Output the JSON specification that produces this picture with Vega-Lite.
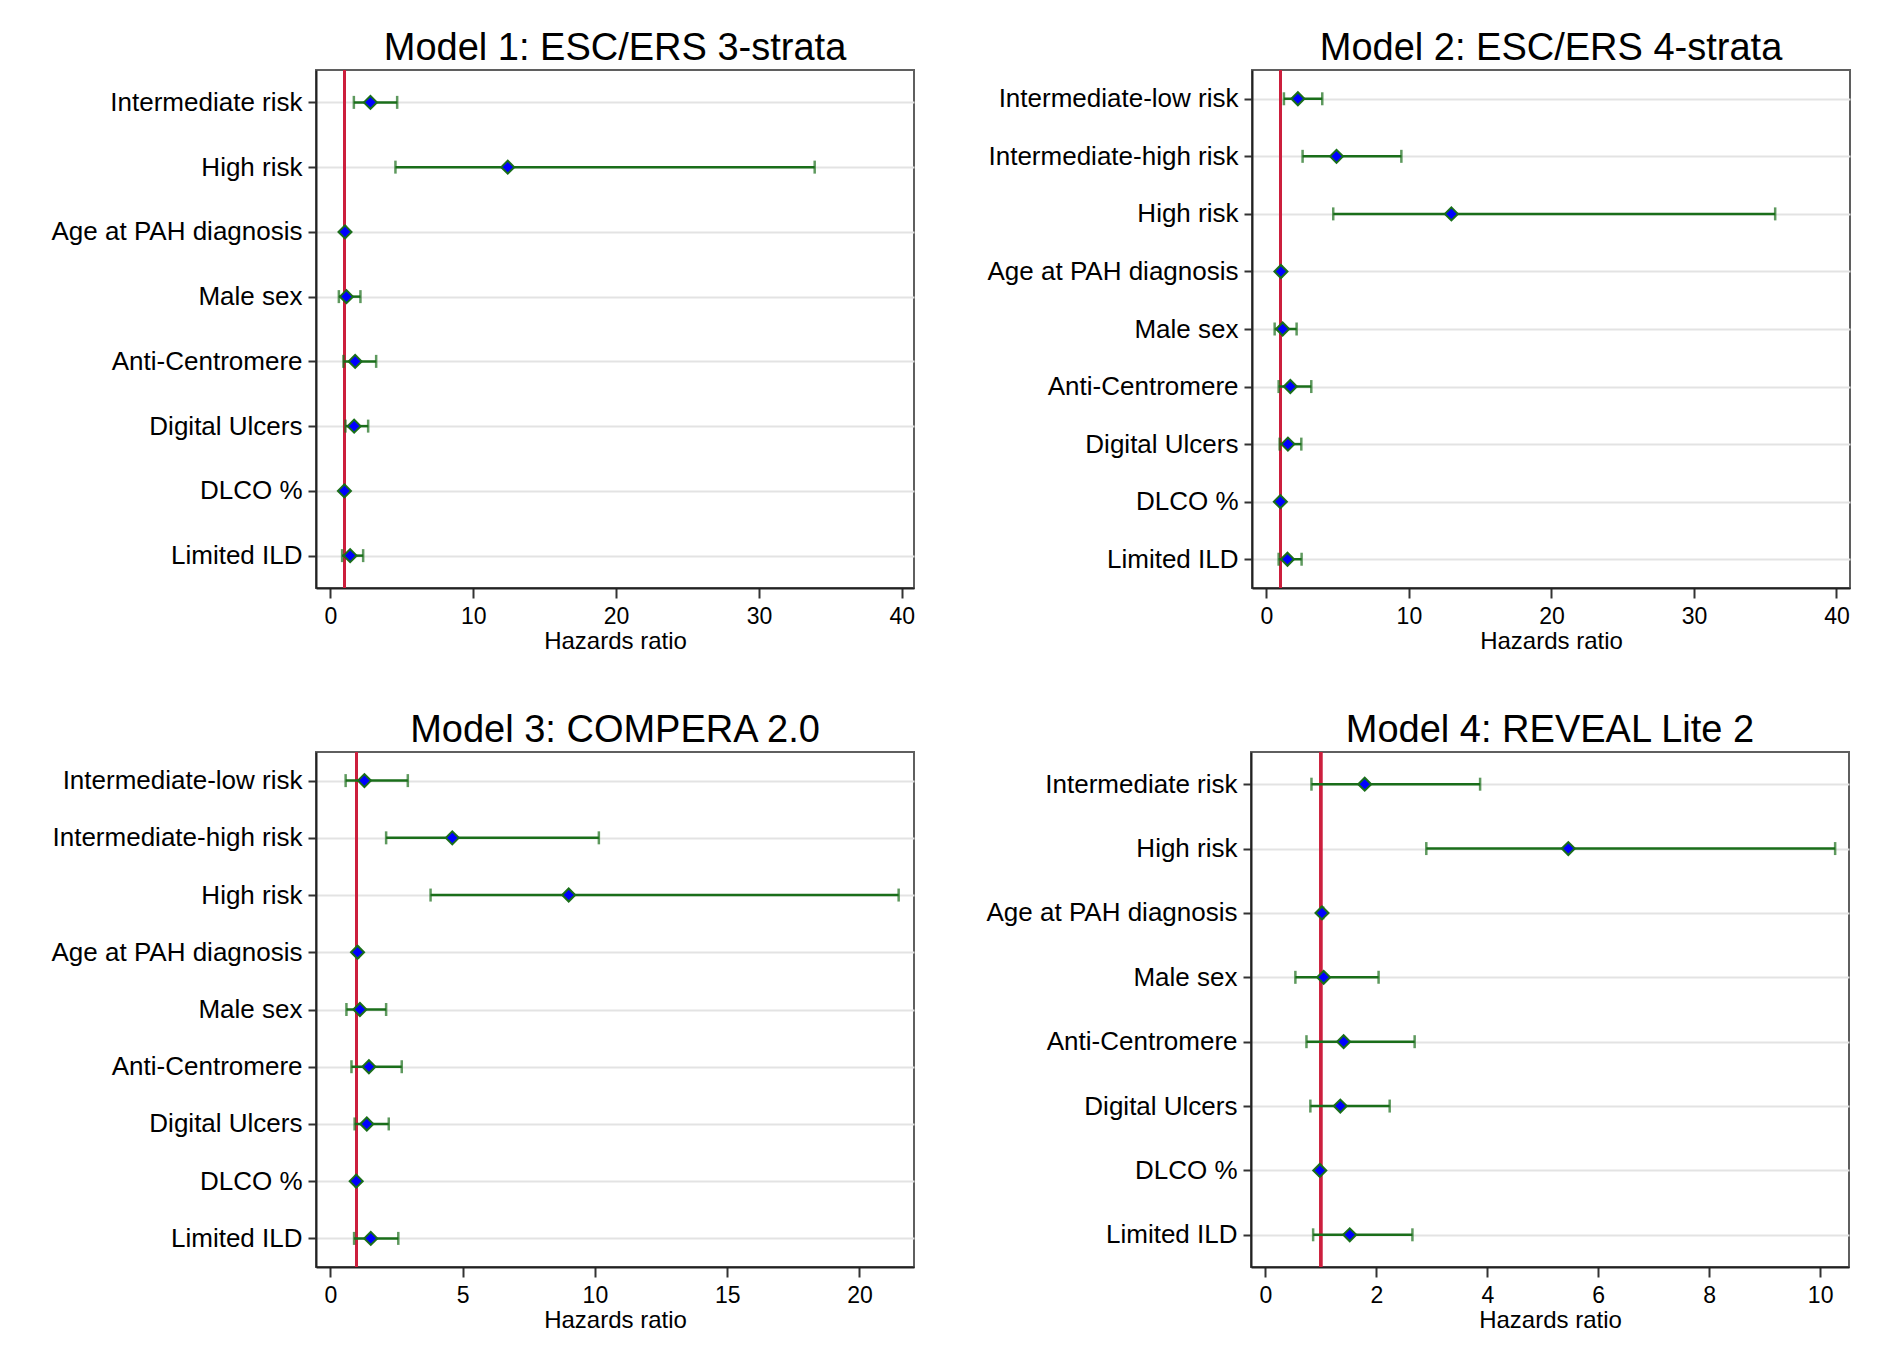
{
  "$schema": "https://vega.github.io/schema/vega-lite/v6.json",
  "padding": {"left": 45, "top": 28, "right": 5, "bottom": 5},
  "background": "white",
  "datasets": {
    "hr": [
      {"model": "m1", "var": "Intermediate risk", "hr": 2.81, "lo": 1.65, "hi": 4.68},
      {"model": "m1", "var": "High risk", "hr": 12.42, "lo": 4.56, "hi": 33.9},
      {"model": "m1", "var": "Age at PAH diagnosis", "hr": 1.03, "lo": 1.01, "hi": 1.05},
      {"model": "m1", "var": "Male sex", "hr": 1.13, "lo": 0.6, "hi": 2.11},
      {"model": "m1", "var": "Anti-Centromere", "hr": 1.74, "lo": 0.92, "hi": 3.21},
      {"model": "m1", "var": "Digital Ulcers", "hr": 1.67, "lo": 1.06, "hi": 2.65},
      {"model": "m1", "var": "DLCO %", "hr": 0.99, "lo": 0.97, "hi": 1.0},
      {"model": "m1", "var": "Limited ILD", "hr": 1.39, "lo": 0.83, "hi": 2.3},
      {"model": "m2", "var": "Intermediate-low risk", "hr": 2.21, "lo": 1.23, "hi": 3.92},
      {"model": "m2", "var": "Intermediate-high risk", "hr": 4.92, "lo": 2.54, "hi": 9.47},
      {"model": "m2", "var": "High risk", "hr": 12.98, "lo": 4.69, "hi": 35.7},
      {"model": "m2", "var": "Age at PAH diagnosis", "hr": 1.02, "lo": 1.0, "hi": 1.04},
      {"model": "m2", "var": "Male sex", "hr": 1.14, "lo": 0.58, "hi": 2.12},
      {"model": "m2", "var": "Anti-Centromere", "hr": 1.68, "lo": 0.86, "hi": 3.15},
      {"model": "m2", "var": "Digital Ulcers", "hr": 1.51, "lo": 0.93, "hi": 2.45},
      {"model": "m2", "var": "DLCO %", "hr": 0.98, "lo": 0.96, "hi": 1.0},
      {"model": "m2", "var": "Limited ILD", "hr": 1.48, "lo": 0.86, "hi": 2.47},
      {"model": "m3", "var": "Intermediate-low risk", "hr": 1.29, "lo": 0.58, "hi": 2.93},
      {"model": "m3", "var": "Intermediate-high risk", "hr": 4.61, "lo": 2.11, "hi": 10.15},
      {"model": "m3", "var": "High risk", "hr": 9.01, "lo": 3.79, "hi": 21.48},
      {"model": "m3", "var": "Age at PAH diagnosis", "hr": 1.03, "lo": 1.01, "hi": 1.05},
      {"model": "m3", "var": "Male sex", "hr": 1.12, "lo": 0.61, "hi": 2.11},
      {"model": "m3", "var": "Anti-Centromere", "hr": 1.46, "lo": 0.8, "hi": 2.7},
      {"model": "m3", "var": "Digital Ulcers", "hr": 1.38, "lo": 0.92, "hi": 2.21},
      {"model": "m3", "var": "DLCO %", "hr": 0.98, "lo": 0.96, "hi": 1.0},
      {"model": "m3", "var": "Limited ILD", "hr": 1.53, "lo": 0.9, "hi": 2.57},
      {"model": "m4", "var": "Intermediate risk", "hr": 1.79, "lo": 0.83, "hi": 3.87},
      {"model": "m4", "var": "High risk", "hr": 5.46, "lo": 2.9, "hi": 10.27},
      {"model": "m4", "var": "Age at PAH diagnosis", "hr": 1.02, "lo": 1.01, "hi": 1.04},
      {"model": "m4", "var": "Male sex", "hr": 1.05, "lo": 0.54, "hi": 2.04},
      {"model": "m4", "var": "Anti-Centromere", "hr": 1.41, "lo": 0.74, "hi": 2.69},
      {"model": "m4", "var": "Digital Ulcers", "hr": 1.35, "lo": 0.81, "hi": 2.24},
      {"model": "m4", "var": "DLCO %", "hr": 0.98, "lo": 0.97, "hi": 0.99},
      {"model": "m4", "var": "Limited ILD", "hr": 1.52, "lo": 0.86, "hi": 2.65}
    ]
  },
  "vconcat": [
    {
      "hconcat": [
        {
          "width": 598, "height": 518,
          "title": "Model 1: ESC/ERS 3-strata",
          "data": {"name": "hr"},
          "transform": [{"filter": "datum.model == 'm1'"}],
          "layer": [
            {"mark": {"type": "rule", "color": "#cc1f3d", "strokeWidth": 2.5}, "encoding": {"x": {"datum": 1, "type": "quantitative"}}},
            {"mark": {"type": "rule", "color": "#1a6e1a", "strokeWidth": 2.5},
             "encoding": {
               "y": {"field": "var", "type": "nominal", "sort": ["Intermediate risk", "High risk", "Age at PAH diagnosis", "Male sex", "Anti-Centromere", "Digital Ulcers", "DLCO %", "Limited ILD"], "scale": {"type": "point", "padding": 0.5}, "axis": {"title": null}},
               "x": {"field": "lo", "type": "quantitative", "scale": {"domain": [-1, 40.85], "nice": false, "zero": false}, "axis": {"values": [0, 10, 20, 30, 40], "title": "Hazards ratio"}},
               "x2": {"field": "hi"}}},
            {"mark": {"type": "tick", "color": "#1a6e1a", "thickness": 2.5, "size": 13, "orient": "vertical"}, "encoding": {"y": {"field": "var", "type": "nominal", "sort": ["Intermediate risk", "High risk", "Age at PAH diagnosis", "Male sex", "Anti-Centromere", "Digital Ulcers", "DLCO %", "Limited ILD"]}, "x": {"field": "lo", "type": "quantitative"}}},
            {"mark": {"type": "tick", "color": "#1a6e1a", "thickness": 2.5, "size": 13, "orient": "vertical"}, "encoding": {"y": {"field": "var", "type": "nominal", "sort": ["Intermediate risk", "High risk", "Age at PAH diagnosis", "Male sex", "Anti-Centromere", "Digital Ulcers", "DLCO %", "Limited ILD"]}, "x": {"field": "hi", "type": "quantitative"}}},
            {"mark": {"type": "point", "shape": "diamond", "filled": true, "fill": "#0000ff", "stroke": "#1a6e1a", "strokeWidth": 2, "size": 170, "opacity": 1}, "encoding": {"y": {"field": "var", "type": "nominal", "sort": ["Intermediate risk", "High risk", "Age at PAH diagnosis", "Male sex", "Anti-Centromere", "Digital Ulcers", "DLCO %", "Limited ILD"]}, "x": {"field": "hr", "type": "quantitative"}}}
          ]
        },
        {
          "width": 598, "height": 518,
          "title": "Model 2: ESC/ERS 4-strata",
          "data": {"name": "hr"},
          "transform": [{"filter": "datum.model == 'm2'"}],
          "layer": [
            {"mark": {"type": "rule", "color": "#cc1f3d", "strokeWidth": 2.5}, "encoding": {"x": {"datum": 1, "type": "quantitative"}}},
            {"mark": {"type": "rule", "color": "#1a6e1a", "strokeWidth": 2.5},
             "encoding": {
               "y": {"field": "var", "type": "nominal", "sort": ["Intermediate-low risk", "Intermediate-high risk", "High risk", "Age at PAH diagnosis", "Male sex", "Anti-Centromere", "Digital Ulcers", "DLCO %", "Limited ILD"], "scale": {"type": "point", "padding": 0.5}, "axis": {"title": null}},
               "x": {"field": "lo", "type": "quantitative", "scale": {"domain": [-1.01, 40.95], "nice": false, "zero": false}, "axis": {"values": [0, 10, 20, 30, 40], "title": "Hazards ratio"}},
               "x2": {"field": "hi"}}},
            {"mark": {"type": "tick", "color": "#1a6e1a", "thickness": 2.5, "size": 13, "orient": "vertical"}, "encoding": {"y": {"field": "var", "type": "nominal", "sort": ["Intermediate-low risk", "Intermediate-high risk", "High risk", "Age at PAH diagnosis", "Male sex", "Anti-Centromere", "Digital Ulcers", "DLCO %", "Limited ILD"]}, "x": {"field": "lo", "type": "quantitative"}}},
            {"mark": {"type": "tick", "color": "#1a6e1a", "thickness": 2.5, "size": 13, "orient": "vertical"}, "encoding": {"y": {"field": "var", "type": "nominal", "sort": ["Intermediate-low risk", "Intermediate-high risk", "High risk", "Age at PAH diagnosis", "Male sex", "Anti-Centromere", "Digital Ulcers", "DLCO %", "Limited ILD"]}, "x": {"field": "hi", "type": "quantitative"}}},
            {"mark": {"type": "point", "shape": "diamond", "filled": true, "fill": "#0000ff", "stroke": "#1a6e1a", "strokeWidth": 2, "size": 170, "opacity": 1}, "encoding": {"y": {"field": "var", "type": "nominal", "sort": ["Intermediate-low risk", "Intermediate-high risk", "High risk", "Age at PAH diagnosis", "Male sex", "Anti-Centromere", "Digital Ulcers", "DLCO %", "Limited ILD"]}, "x": {"field": "hr", "type": "quantitative"}}}
          ]
        }
      ],
      "spacing": 65
    },
    {
      "hconcat": [
        {
          "width": 598, "height": 515,
          "title": "Model 3: COMPERA 2.0",
          "data": {"name": "hr"},
          "transform": [{"filter": "datum.model == 'm3'"}],
          "layer": [
            {"mark": {"type": "rule", "color": "#cc1f3d", "strokeWidth": 2.5}, "encoding": {"x": {"datum": 1, "type": "quantitative"}}},
            {"mark": {"type": "rule", "color": "#1a6e1a", "strokeWidth": 2.5},
             "encoding": {
               "y": {"field": "var", "type": "nominal", "sort": ["Intermediate-low risk", "Intermediate-high risk", "High risk", "Age at PAH diagnosis", "Male sex", "Anti-Centromere", "Digital Ulcers", "DLCO %", "Limited ILD"], "scale": {"type": "point", "padding": 0.5}, "axis": {"title": null}},
               "x": {"field": "lo", "type": "quantitative", "scale": {"domain": [-0.54, 22.06], "nice": false, "zero": false}, "axis": {"values": [0, 5, 10, 15, 20], "title": "Hazards ratio"}},
               "x2": {"field": "hi"}}},
            {"mark": {"type": "tick", "color": "#1a6e1a", "thickness": 2.5, "size": 13, "orient": "vertical"}, "encoding": {"y": {"field": "var", "type": "nominal", "sort": ["Intermediate-low risk", "Intermediate-high risk", "High risk", "Age at PAH diagnosis", "Male sex", "Anti-Centromere", "Digital Ulcers", "DLCO %", "Limited ILD"]}, "x": {"field": "lo", "type": "quantitative"}}},
            {"mark": {"type": "tick", "color": "#1a6e1a", "thickness": 2.5, "size": 13, "orient": "vertical"}, "encoding": {"y": {"field": "var", "type": "nominal", "sort": ["Intermediate-low risk", "Intermediate-high risk", "High risk", "Age at PAH diagnosis", "Male sex", "Anti-Centromere", "Digital Ulcers", "DLCO %", "Limited ILD"]}, "x": {"field": "hi", "type": "quantitative"}}},
            {"mark": {"type": "point", "shape": "diamond", "filled": true, "fill": "#0000ff", "stroke": "#1a6e1a", "strokeWidth": 2, "size": 170, "opacity": 1}, "encoding": {"y": {"field": "var", "type": "nominal", "sort": ["Intermediate-low risk", "Intermediate-high risk", "High risk", "Age at PAH diagnosis", "Male sex", "Anti-Centromere", "Digital Ulcers", "DLCO %", "Limited ILD"]}, "x": {"field": "hr", "type": "quantitative"}}}
          ]
        },
        {
          "width": 598, "height": 515,
          "title": "Model 4: REVEAL Lite 2",
          "data": {"name": "hr"},
          "transform": [{"filter": "datum.model == 'm4'"}],
          "layer": [
            {"mark": {"type": "rule", "color": "#cc1f3d", "strokeWidth": 2.5}, "encoding": {"x": {"datum": 1, "type": "quantitative"}}},
            {"mark": {"type": "rule", "color": "#1a6e1a", "strokeWidth": 2.5},
             "encoding": {
               "y": {"field": "var", "type": "nominal", "sort": ["Intermediate risk", "High risk", "Age at PAH diagnosis", "Male sex", "Anti-Centromere", "Digital Ulcers", "DLCO %", "Limited ILD"], "scale": {"type": "point", "padding": 0.5}, "axis": {"title": null}},
               "x": {"field": "lo", "type": "quantitative", "scale": {"domain": [-0.26, 10.52], "nice": false, "zero": false}, "axis": {"values": [0, 2, 4, 6, 8, 10], "title": "Hazards ratio"}},
               "x2": {"field": "hi"}}},
            {"mark": {"type": "tick", "color": "#1a6e1a", "thickness": 2.5, "size": 13, "orient": "vertical"}, "encoding": {"y": {"field": "var", "type": "nominal", "sort": ["Intermediate risk", "High risk", "Age at PAH diagnosis", "Male sex", "Anti-Centromere", "Digital Ulcers", "DLCO %", "Limited ILD"]}, "x": {"field": "lo", "type": "quantitative"}}},
            {"mark": {"type": "tick", "color": "#1a6e1a", "thickness": 2.5, "size": 13, "orient": "vertical"}, "encoding": {"y": {"field": "var", "type": "nominal", "sort": ["Intermediate risk", "High risk", "Age at PAH diagnosis", "Male sex", "Anti-Centromere", "Digital Ulcers", "DLCO %", "Limited ILD"]}, "x": {"field": "hi", "type": "quantitative"}}},
            {"mark": {"type": "point", "shape": "diamond", "filled": true, "fill": "#0000ff", "stroke": "#1a6e1a", "strokeWidth": 2, "size": 170, "opacity": 1}, "encoding": {"y": {"field": "var", "type": "nominal", "sort": ["Intermediate risk", "High risk", "Age at PAH diagnosis", "Male sex", "Anti-Centromere", "Digital Ulcers", "DLCO %", "Limited ILD"]}, "x": {"field": "hr", "type": "quantitative"}}}
          ]
        }
      ],
      "spacing": 65
    }
  ],
  "spacing": 56,
  "config": {
    "font": "Liberation Sans",
    "view": {"stroke": "#5f5f5f", "strokeWidth": 2},
    "title": {"fontSize": 38, "fontWeight": "normal", "color": "#000000", "frame": "group", "anchor": "middle", "offset": 1},
    "axis": {"labelColor": "#000000", "titleColor": "#000000", "domainColor": "#222222", "domainWidth": 2, "tickColor": "#333333", "tickWidth": 2, "labelFlush": false, "labelOverlap": false},
    "axisY": {"labelFontSize": 26, "labelLimit": 400, "tickSize": 8, "labelPadding": 6, "grid": true, "gridColor": "#e3e3e3", "gridWidth": 2, "minExtent": 270, "maxExtent": 270},
    "axisX": {"labelFontSize": 23, "titleFontSize": 24, "titleFontWeight": "normal", "tickSize": 10, "labelPadding": 7, "grid": false, "minExtent": 34, "maxExtent": 34, "titlePadding": 7}
  }
}
